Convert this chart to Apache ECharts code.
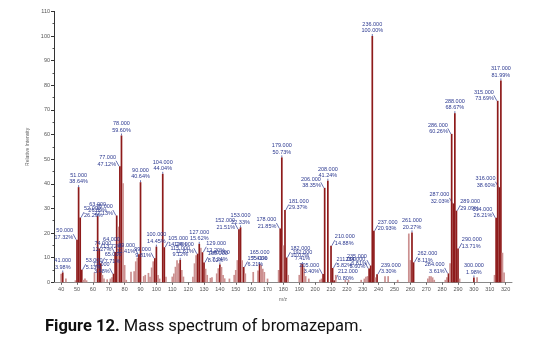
<!DOCTYPE html>
<html>
<head>
<meta charset="utf-8">
<script src="https://cdn.jsdelivr.net/npm/echarts@6/dist/echarts.min.js"></script>
<style>
  html, body { margin: 0; padding: 0; background: #fff; }
  #chart { width: 547px; height: 352px; }
</style>
</head>
<body>
<div id="chart"></div>
<script>
// m/z values and relative intensity (%)
var mz = [40, 41, 43, 49, 50, 51, 52, 53, 54, 55, 56, 61, 63, 64, 65, 66, 67, 69, 71, 72, 73, 74, 75, 76, 77, 78, 79, 80, 81,
    84, 86, 87, 88, 89, 90, 92, 93, 95, 96, 97, 98, 99, 100, 101, 102, 104, 105, 106,
    110, 111, 112, 113, 114, 115, 116, 117, 123, 124, 125, 126, 127, 128, 129, 130, 131, 132, 134, 135,
    138, 139, 140, 141, 142, 143, 146, 149, 150, 151, 152, 153, 154, 155, 156,
    161, 164, 165, 166, 167, 168, 170, 177, 178, 179, 180, 181, 182, 183,
    190, 191, 192, 193, 194, 196, 203, 204, 205, 206, 208, 210, 211, 212, 213, 219, 221,
    229, 231, 232, 233, 234, 235, 236, 237, 238, 239, 244, 246, 252,
    259, 260, 261, 262, 271, 272, 273, 274, 275, 282, 283, 284, 285, 286, 287, 288, 289, 290, 291,
    300, 302, 313, 314, 315, 316, 317, 318, 319];
var intensity = [3.5, 3.98, 1.5, 0.8, 17.32, 38.64, 26.29, 5.13, 1.0, 1.5, 0.8, 4.0, 26.89, 13.72, 7.71, 3.0, 1.5, 1.2, 1.5, 2.0, 3.48, 12.27, 27.13, 22.6, 47.12, 59.60, 40.2, 7.0, 1.0,
    4.3, 4.5, 8.5, 10.0, 11.41, 40.64, 2.5, 3.0, 3.8, 2.3, 6.0, 8.5, 9.81, 14.45, 3.0, 1.5, 44.04, 14.24, 2.3,
    2.3, 3.6, 6.3, 9.0, 7.7, 9.12, 5.0, 2.3, 2.3, 7.7, 11.0, 11.61, 15.62, 14.0, 12.20, 8.02, 5.5, 3.0, 1.8, 2.0,
    3.6, 5.7, 7.24, 6.2, 3.0, 1.6, 1.5, 3.0, 5.0, 9.0, 21.51, 22.33, 9.0, 6.21, 3.6,
    4.2, 4.8, 7.41, 7.0, 5.5, 4.2, 1.5, 5.0, 21.85, 50.73, 15.0, 29.37, 10.07, 3.0,
    3.0, 7.7, 7.41, 6.0, 2.5, 1.5, 1.0, 1.5, 3.40, 38.35, 41.24, 14.88, 5.82, 0.80, 3.0, 1.0, 1.0,
    1.0, 1.5, 2.3, 2.5, 5.60, 6.81, 100.00, 20.93, 2.0, 3.30, 2.5, 2.5, 1.0,
    19.8, 9.0, 20.27, 8.11, 1.5, 2.5, 2.5, 2.0, 1.0, 1.0, 2.0, 3.61, 7.7, 60.26, 32.03, 68.67, 29.09, 13.71, 1.5,
    1.98, 2.0, 3.0, 26.21, 73.69, 38.60, 81.99, 12.0, 4.0];
// peaks that carry an annotation in the figure
var labeledMz = [41, 50, 51, 52, 53, 63, 64, 65, 73, 74, 75, 77, 78, 89, 90, 99, 100, 104, 105, 115, 126, 127, 129, 130,
    140, 152, 153, 155, 165, 178, 179, 181, 182, 192, 205, 206, 208, 210, 211, 212, 234, 235, 236, 237, 239,
    261, 262, 284, 286, 287, 288, 289, 290, 300, 314, 315, 316, 317];
var xTicks = [40, 50, 60, 70, 80, 90, 100, 110, 120, 130, 140, 150, 160, 170, 180, 190, 200, 210, 220, 230, 240, 250, 260, 270, 280, 290, 300, 310, 320];

var LABEL_BLUE = '#2c3990';
var CAPTION_FONT = 'Roboto, "Liberation Sans", sans-serif';

// put the annotation away from the taller labelled neighbour
function labelSide(i) {
    var m = mz[i], v = intensity[i], maxL = 0, maxR = 0;
    for (var j = 0; j < mz.length; j++) {
        if (j === i || labeledMz.indexOf(mz[j]) < 0) continue;
        var d = mz[j] - m;
        if (Math.abs(d) > 3 || intensity[j] <= v) continue;
        if (d < 0) maxL = Math.max(maxL, intensity[j]);
        else maxR = Math.max(maxR, intensity[j]);
    }
    if (!maxL && !maxR) return 'top';
    return maxR >= maxL ? 'left' : 'right';
}

var sides = mz.map(function (m, i) { return labelSide(i); });

var data = mz.map(function (m, i) {
    var lab = labeledMz.indexOf(m) >= 0;
    return {
        value: [m, intensity[i]],
        label: { show: lab },
        itemStyle: { color: lab ? '#8e1b1b' : '#cc9090' }
    };
});

var chart = echarts.init(document.getElementById('chart'), null, { renderer: 'canvas' });

var option = {
    animation: false,
    backgroundColor: '#fff',
    title: {
        text: '{b|Figure 12.} Mass spectrum of bromazepam.',
        left: 40,
        top: 313,
        textStyle: {
            fontFamily: CAPTION_FONT,
            fontSize: 16.5,
            fontWeight: 'normal',
            color: '#111',
            rich: {
                b: { fontFamily: CAPTION_FONT, fontSize: 16.5, fontWeight: 'bold', color: '#111' }
            }
        }
    },
    grid: { left: 54, right: 35, top: 11.4, bottom: 69.7 },
    xAxis: {
        type: 'value',
        min: 35.5,
        max: 324,
        name: 'm/z',
        nameLocation: 'middle',
        nameGap: 13,
        nameTextStyle: { fontSize: 5, color: '#666', fontFamily: 'Liberation Sans' },
        axisLine: { lineStyle: { color: '#888', width: 1 } },
        axisTick: { show: true, length: 2.5, customValues: xTicks, lineStyle: { color: '#666' } },
        axisLabel: { customValues: xTicks, fontSize: 5.5, color: '#555', margin: 4, fontFamily: 'Liberation Sans' },
        splitLine: { show: false }
    },
    yAxis: {
        type: 'value',
        min: 0,
        max: 110,
        interval: 10,
        name: 'Relative Intensity',
        nameLocation: 'middle',
        nameGap: 22,
        nameTextStyle: { fontSize: 5, color: '#666', fontFamily: 'Liberation Sans' },
        axisLine: { show: true, lineStyle: { color: '#333', width: 1 } },
        axisTick: { show: true, length: 3, lineStyle: { color: '#333' } },
        minorTick: { show: true, splitNumber: 2, length: 1.5, lineStyle: { color: '#555' } },
        axisLabel: { fontSize: 5.5, color: '#555', margin: 4, fontFamily: 'Liberation Sans' },
        splitLine: { show: false }
    },
    series: [{
        type: 'bar',
        barWidth: 1.7,
        data: data,
        label: {
            position: 'top',
            distance: 2,
            fontSize: 5.5,
            lineHeight: 6.5,
            color: LABEL_BLUE,
            fontFamily: 'Liberation Sans',
            formatter: function (p) {
                return p.value[0].toFixed(3) + '\n' + p.value[1].toFixed(2) + '%';
            }
        },
        labelLine: { show: true, lineStyle: { color: LABEL_BLUE, width: 0.7 } },
        labelLayout: function (p) {
            var s = sides[p.dataIndex];
            if (s === 'left') {
                return { x: p.rect.x - 3, y: p.rect.y + 1, align: 'right', verticalAlign: 'bottom' };
            }
            if (s === 'right') {
                return { x: p.rect.x + p.rect.width + 3, y: p.rect.y + 1, align: 'left', verticalAlign: 'bottom' };
            }
            return {};
        }
    }]
};

chart.setOption(option);
</script>
</body>
</html>
